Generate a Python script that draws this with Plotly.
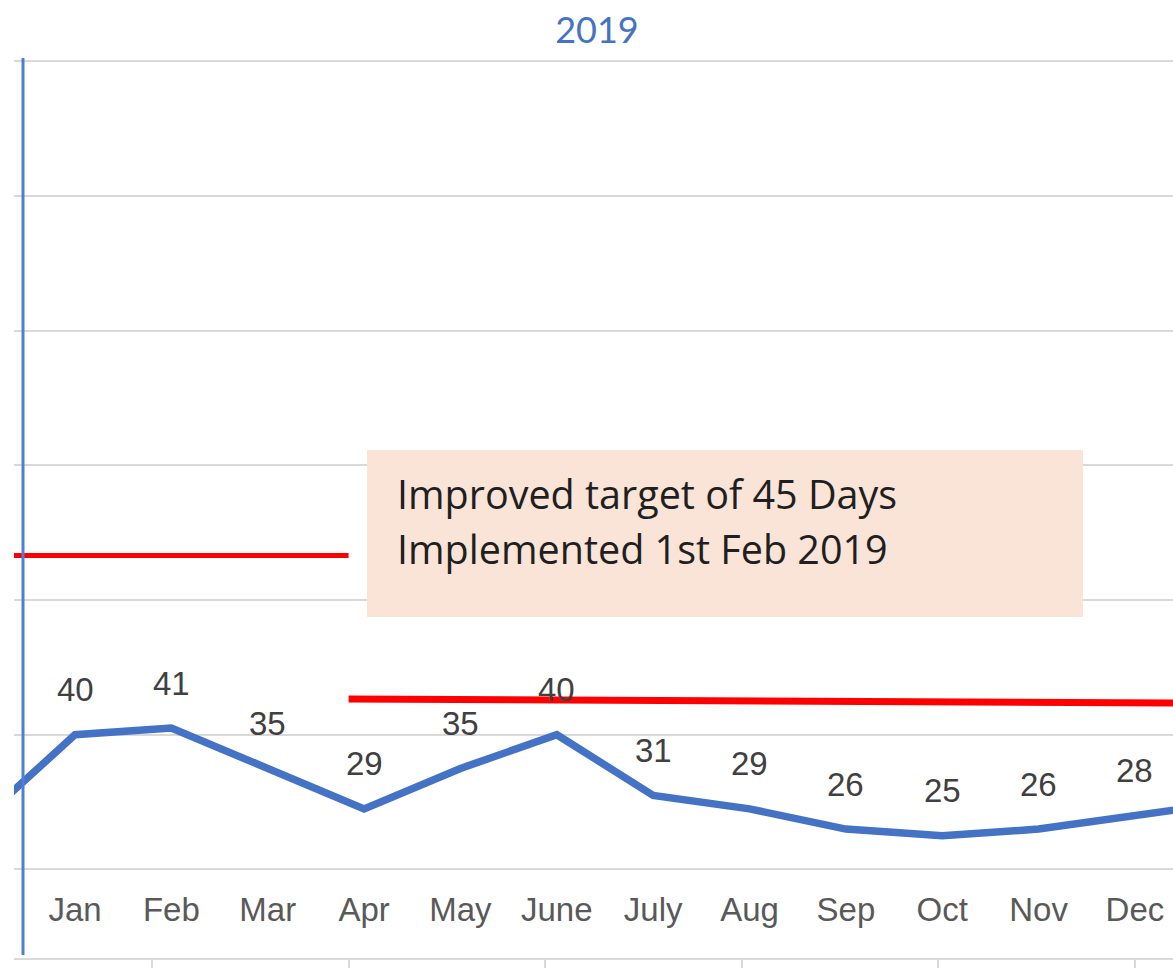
import plotly.graph_objects as go

# ---- data ----
months = ["Jan", "Feb", "Mar", "Apr", "May", "June", "July", "Aug", "Sep", "Oct", "Nov", "Dec"]
days = [40, 41, 35, 29, 35, 40, 31, 29, 26, 25, 26, 28]
prev_value = 27      # Dec 2018 (off-chart, left)
next_value = 30      # Jan 2020 (off-chart, right)

old_target_x = [0, 2]          # secondary axis positions
old_target_y = [66.6, 66.6]
new_target_x = [2, 7]
new_target_y = [45.3, 44.6]
secondary_ticks = [1, 2, 3, 4, 5, 6]

title_text = "2019"
note_lines = ["Improved target of 45 Days", "Implemented 1st Feb 2019"]

# ---- layout geometry (page margin removed by post_script) ----
W, H = 1173, 968
REF_LEFT, REF_RIGHT, REF_TOP, REF_BOTTOM = 14, 1173, 57, 959
ML = REF_LEFT
MR = W - REF_RIGHT
MT = REF_TOP
MB = H - REF_BOTTOM
PW, PH = W - ML - MR, H - MT - MB


def px(ref_x):
    return (ref_x - REF_LEFT) / PW


def py(ref_y):
    return (REF_BOTTOM - ref_y) / PH


month_pos = list(range(1, len(months) + 1))
line_x = [0] + month_pos + [len(months) + 1]
line_y = [prev_value] + days + [next_value]

fig = go.Figure()

fig.add_trace(go.Scatter(
    x=old_target_x, y=old_target_y, xaxis="x2", yaxis="y",
    mode="lines", line=dict(color="#ff0000", width=5), hoverinfo="skip", showlegend=False))
fig.add_trace(go.Scatter(
    x=new_target_x, y=new_target_y, xaxis="x2", yaxis="y",
    mode="lines", line=dict(color="#ff0000", width=7), hoverinfo="skip", showlegend=False))
fig.add_trace(go.Scatter(
    x=line_x, y=line_y, mode="lines",
    line=dict(color="#4472c4", width=7.5), showlegend=False))

annotations = []
for xv, v in zip(month_pos, days):
    annotations.append(dict(
        x=xv, y=v, xref="x", yref="y", text=str(v), showarrow=False,
        yshift=45, font=dict(family="Liberation Sans", size=33, color="#404040")))

box_x0, box_x1, box_y0, box_y1 = 367, 1083, 450, 617
shapes = [
    dict(type="rect", xref="paper", yref="paper",
         x0=px(box_x0), x1=px(box_x1), y0=py(box_y1), y1=py(box_y0),
         fillcolor="#f9e4d7", line=dict(width=0), layer="above"),
    dict(type="line", xref="paper", yref="paper",
         x0=px(23), x1=px(23), y0=py(955), y1=py(58),
         line=dict(color="#4f7fd2", width=3), layer="above"),
]
for t, yc in zip(note_lines, [494, 549]):
    annotations.append(dict(
        x=px(395), y=py(yc), xref="paper", yref="paper", text=t, showarrow=False,
        xanchor="left", yanchor="middle",
        font=dict(family="Open Sans", size=39.5, color="#1f1f1f")))

px_per_unit = 6.735
y_top = 140 + (61 - REF_TOP) / px_per_unit
y_dom_bottom_ref = 887
y_bottom = 20 - (y_dom_bottom_ref - 869.5) / px_per_unit
dom0 = (REF_BOTTOM - y_dom_bottom_ref) / PH

month_px = 96.36
x_lo = 1 - (75 - REF_LEFT) / month_px
x_hi = 1 + (REF_RIGHT - 75) / month_px

sec_px = 196.6
x2_lo = 6 - (1135 - REF_LEFT) / sec_px
x2_hi = 6 + (REF_RIGHT - 1135) / sec_px

fig.update_layout(
    width=W, height=H,
    margin=dict(l=ML, r=MR, t=MT, b=MB, autoexpand=False),
    paper_bgcolor="white", plot_bgcolor="white",
    title=dict(text=title_text, x=597 / W, xanchor="center",
               y=1 - 30 / H, yanchor="middle",
               font=dict(family="Lato", size=36, color="#4472c4")),
    xaxis=dict(range=[x_lo, x_hi], tickvals=month_pos, ticktext=months,
               showgrid=False, zeroline=False, showline=False, ticks="",
               tickfont=dict(family="Liberation Sans", size=33, color="#595959"),
               anchor="y", domain=[0, 1], automargin=False),
    xaxis2=dict(range=[x2_lo, x2_hi], overlaying="x", anchor="free", position=0,
                side="bottom", showgrid=False, zeroline=False, showline=True,
                linecolor="#d9d9d9", linewidth=2, ticks="outside", ticklen=12,
                tickwidth=2, tickcolor="#d9d9d9", tickvals=secondary_ticks,
                showticklabels=False, automargin=False),
    yaxis=dict(range=[y_bottom, y_top], domain=[dom0, 1], tick0=0, dtick=20,
               showgrid=True, gridcolor="#d9d9d9", gridwidth=2, zeroline=False,
               showline=False, showticklabels=False, ticks="", automargin=False),
    shapes=shapes,
    annotations=annotations,
)

fig.write_html(
    "out.html",
    config={"displayModeBar": False},
    post_script=(
        "document.body.style.margin='0px';"
        "document.body.style.overflow='hidden';"
        "document.documentElement.style.overflow='hidden';"
    ),
)
